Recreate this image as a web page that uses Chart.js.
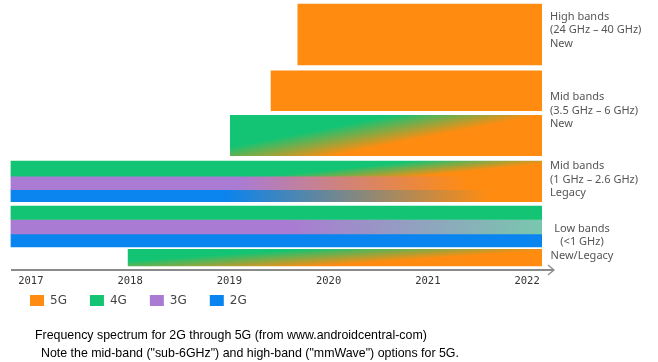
<!DOCTYPE html>
<html><head><meta charset="utf-8">
<script src="https://cdn.jsdelivr.net/npm/chart.js@4.4.1/dist/chart.umd.min.js"></script>
<style>
html,body{margin:0;padding:0;background:#fff;}
#wrap{position:relative;width:658px;height:362px;overflow:hidden;background:#fff;}
#c{position:absolute;left:0;top:0;}
.cap{position:absolute;font-family:'Liberation Sans',Arial,sans-serif;font-size:12.4px;color:#000;white-space:pre;line-height:18px;}
</style></head><body>
<div id="wrap"><canvas id="c" width="658" height="362"></canvas>
<div class="cap" id="cap1" style="left:35px;top:326px;"></div>
<div class="cap" id="cap2" style="left:41px;top:344px;"></div>
</div>
<script>
// ---------- data ----------
const years = [2017, 2018, 2019, 2020, 2021, 2022];
const techNames = ['5G', '4G', '3G', '2G'];
const stripeLabels = ['High bands 5G', 'Mid bands (new) 5G', 'Mid bands (new) 4G to 5G',
  'Mid bands (legacy) 4G', 'Mid bands (legacy) 3G', 'Mid bands (legacy) 2G',
  'Low bands 4G', 'Low bands 3G', 'Low bands 2G', 'Low bands (new/legacy) 4G to 5G'];
const stripeTech = ['5G', '5G', '4G', '4G', '3G', '2G', '4G', '3G', '2G', '4G'];
const stripeStart = [2019.69, 2019.42, 2019.01, 2016.8, 2016.8, 2016.8, 2016.8, 2016.8, 2016.8, 2017.98];
const stripeEnd = [2022.15, 2022.15, 2022.15, 2022.15, 2022.15, 2022.15, 2022.15, 2022.15, 2022.15, 2022.15];
const laneBottom = [20.5, 15.9, 11.4, 9.35, 8.0, 6.8, 5.0, 3.55, 2.25, 0.35];
const laneTop = [26.6, 19.9, 15.45, 10.85, 9.35, 8.0, 6.35, 5.0, 3.55, 2.0];
const bandLabelLines = [
  ['High bands', '(24 GHz \u2013 40 GHz)', 'New'],
  ['Mid bands', '(3.5 GHz \u2013 6 GHz)', 'New'],
  ['Mid bands', '(1 GHz \u2013 2.6 GHz)', 'Legacy'],
  ['Low bands', '(<1 GHz)', 'New/Legacy']
];
const bandLabelLanes = [[0, 0], [1, 2], [3, 5], [6, 9]];
const captionLines = [
  'Frequency spectrum for 2G through 5G (from www.androidcentral-com)',
  'Note the mid-band ("sub-6GHz") and high-band ("mmWave") options for 5G.'
];

// ---------- styles ----------
const techColors = {'5G': '#FF8C10', '4G': '#13C474', '3G': '#AA7BD2', '2G': '#0A84EE'};
const fades = [null, null,
  {to: '#FF8C10', p0: [0.215, 0.46], p1: [0.232, 1.14]},
  {to: '#FF8C10', p0: [0.7687, -0.033], p1: [0.7718, 1.02]},
  {to: '#FF8C10', p0: [0.431, 0], p1: [0.864, 0]},
  {to: '#FF8C10', p0: [0.403, 0], p1: [0.902, 0]},
  null,
  {to: '#79C7AE', p0: [0.525, 0], p1: [1, 0]},
  null,
  {to: '#FF8C10', p0: [0.4144, 0.0], p1: [0.4173, 1.08]}
];
const labelOffsets = [-4.5, -2.5, -1.75, 6];
const labelAlign = ['left', 'left', 'left', 'center'];

document.getElementById('cap1').textContent = captionLines[0];
document.getElementById('cap2').textContent = captionLines[1];

function stripeFill(ctx) {
  const chart = ctx.chart, i = ctx.datasetIndex;
  const base = techColors[stripeTech[i]];
  const fx = fades[i];
  if (!fx || !chart.chartArea || !chart.scales.x) return base;
  const xs = chart.scales.x, ys = chart.scales.y;
  const x0 = xs.getPixelForValue(stripeStart[i]), x1 = xs.getPixelForValue(stripeEnd[i]);
  const yT = ys.getPixelForValue(laneTop[i]), yB = ys.getPixelForValue(laneBottom[i]);
  const w = x1 - x0, h = yB - yT;
  const g = chart.ctx.createLinearGradient(x0 + fx.p0[0] * w, yT + fx.p0[1] * h, x0 + fx.p1[0] * w, yT + fx.p1[1] * h);
  g.addColorStop(0, base);
  g.addColorStop(1, fx.to);
  return g;
}

function laneThickness(i) {
  return (ctx) => {
    const ys = ctx.chart.scales.y;
    if (!ys || !ctx.chart.chartArea) return 10;
    return Math.abs(ys.getPixelForValue(laneBottom[i]) - ys.getPixelForValue(laneTop[i]));
  };
}

const datasets = stripeLabels.map((name, i) => ({
  label: name,
  data: [{x: [stripeStart[i], stripeEnd[i]], y: (laneBottom[i] + laneTop[i]) / 2}],
  backgroundColor: stripeFill,
  borderWidth: 0,
  stack: 'all',
  barThickness: laneThickness(i)
}));

const decor = {
  id: 'decor',
  afterLayout(chart) {
    const lg = chart.legend;
    if (!lg || !chart.chartArea) return;
    const h = lg.bottom - lg.top;
    lg.top = chart.chartArea.bottom + 2;
    lg.bottom = lg.top + h;
  },
  afterDatasetsDraw(chart) {
    const {ctx, chartArea: a, scales: {x, y}} = chart;
    ctx.save();
    const yy = a.bottom + 0.5;
    const xs = x.getPixelForValue(Math.min(...stripeStart));
    const xe = a.right + 12;
    ctx.strokeStyle = '#8a8a8a';
    ctx.lineWidth = 2;
    ctx.beginPath(); ctx.moveTo(xs, yy); ctx.lineTo(xe, yy); ctx.stroke();
    ctx.lineWidth = 1.3;
    ctx.beginPath(); ctx.moveTo(xe - 6, yy - 5); ctx.lineTo(xe, yy); ctx.lineTo(xe - 6, yy + 5); ctx.stroke();
    ctx.font = '11px "Noto Sans"';
    ctx.fillStyle = '#555';
    ctx.textBaseline = 'middle';
    bandLabelLines.forEach((lines, g) => {
      const [i0, i1] = bandLabelLanes[g];
      const top = y.getPixelForValue(laneTop[i0]), bot = y.getPixelForValue(laneBottom[i1]);
      const cy = (top + bot) / 2 + labelOffsets[g];
      ctx.textAlign = labelAlign[g];
      const tx = labelAlign[g] === 'center' ? a.right + 40 : a.right + 8;
      lines.forEach((s, k) => ctx.fillText(s, tx, cy + (k - (lines.length - 1) / 2) * 13.5));
    });
    ctx.restore();
  }
};

new Chart(document.getElementById('c'), {
  type: 'bar',
  data: {datasets},
  plugins: [decor],
  options: {
    indexAxis: 'y',
    responsive: false,
    devicePixelRatio: 1,
    animation: false,
    events: [],
    layout: {padding: {left: 7, right: 116, top: 0, bottom: 23}},
    scales: {
      x: {
        type: 'linear', min: 2016.76, max: 2022.15, bounds: 'data', stacked: false,
        grid: {display: false, drawTicks: false},
        border: {display: false},
        afterBuildTicks: (scale) => { scale.ticks = years.map(v => ({value: v})); },
        ticks: {
          autoSkip: false, maxRotation: 0, padding: 6, color: '#333',
          font: {family: 'DejaVu Sans Mono', size: 10.5},
          callback: (v) => String(v)
        }
      },
      y: {type: 'linear', min: 0, max: 27, display: false, offset: false}
    },
    plugins: {
      tooltip: {enabled: false},
      title: {display: false},
      legend: {
        display: true, position: 'bottom', align: 'start',
        labels: {
          boxWidth: 14, boxHeight: 11, padding: 23, color: '#444',
          font: {family: 'DejaVu Sans', size: 12},
          generateLabels: () => techNames.map((t, i) => ({
            text: t, fillStyle: techColors[t], strokeStyle: techColors[t], lineWidth: 0,
            hidden: false, index: i, fontColor: '#444'
          }))
        }
      }
    }
  }
});
</script>
</body></html>
